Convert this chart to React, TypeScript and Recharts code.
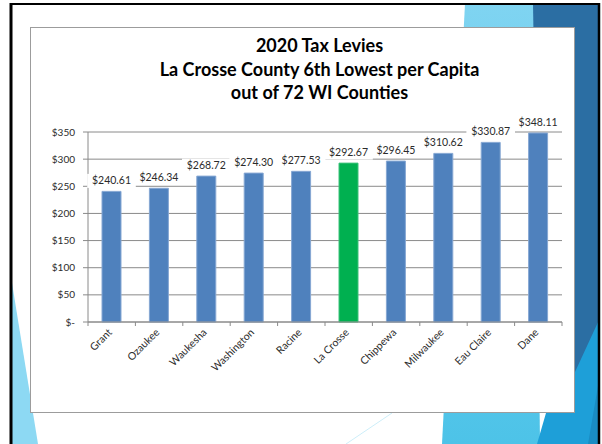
import React from 'react';
import { BarChart, Bar, XAxis, YAxis, CartesianGrid, Cell, LabelList } from 'recharts';

const counties = ['Grant', 'Ozaukee', 'Waukesha', 'Washington', 'Racine', 'La Crosse', 'Chippewa', 'Milwaukee', 'Eau Claire', 'Dane'];
const levies = [240.61, 246.34, 268.72, 274.3, 277.53, 292.67, 296.45, 310.62, 330.87, 348.11];
const highlightCounty = 'La Crosse';
const yTicks = [0, 50, 100, 150, 200, 250, 300, 350];
const titleLines = ['2020 Tax Levies', 'La Crosse County 6th Lowest per Capita', 'out of 72 WI Counties'];

const data = counties.map((c, i) => ({ county: c, levy: levies[i] }));

const CHART_W = 545;
const CHART_H = 386;
const Y_AXIS_W = 58;
const MARGIN = { top: 105, right: 13, bottom: 0, left: 0 };
const PLOT_W = CHART_W - Y_AXIS_W - MARGIN.right - MARGIN.left;
const BAND = PLOT_W / counties.length;

const FONT = 'Lato, "Open Sans", sans-serif';
const GRID = '#8a8a8a';
const BLUE = '#4F81BD';
const GREEN = '#00B050';
const TEXT = '#2b2b2b';

const fmtY = (v: number) => (v === 0 ? '$-' : `$${v}`);
const fmtLabel = (v: number) => `$${v.toFixed(2)}`;

const XTick = (props: any) => {
  const { x, y, payload, index } = props;
  const tx = x + 1;
  const ty = y + 11;
  const last = index === counties.length - 1;
  return (
    <g>
      <line x1={x - BAND / 2} x2={x - BAND / 2} y1={y} y2={y + 4} stroke={GRID} />
      {last && <line x1={x + BAND / 2} x2={x + BAND / 2} y1={y} y2={y + 4} stroke={GRID} />}
      <text
        x={tx}
        y={ty}
        textAnchor="end"
        transform={`rotate(-45, ${tx}, ${ty})`}
        fontSize={10.5}
        fontFamily={FONT}
        fill={TEXT}
      >
        {payload.value}
      </text>
    </g>
  );
};

const BarLabel = (props: any) => {
  const { x, y, width, value } = props;
  const cx = x + width / 2;
  const txt = fmtLabel(Number(value));
  const w = txt.length * 5.8 + 8;
  return (
    <g>
      <rect x={cx - w / 2} y={y - 17.5} width={w} height={14} fill="#ffffff" />
      <text x={cx} y={y - 7} textAnchor="middle" fontSize={10.5} fontFamily={FONT} fill={TEXT}>
        {txt}
      </text>
    </g>
  );
};

export default function App() {
  return (
    <div style={{ position: 'absolute', left: 0, top: 0, width: 602, height: 444, background: '#ffffff', overflow: 'hidden' }}>
      <svg width={602} height={444} style={{ position: 'absolute', left: 0, top: 0 }}>
        <defs>
          <linearGradient id="lb" x1="0" y1="0" x2="0" y2="1">
            <stop offset="0" stopColor="#7FD4F1" />
            <stop offset="1" stopColor="#4DC3E8" />
          </linearGradient>
        </defs>
        <polygon points="465,4 535,4 540,444 442,444" fill="url(#lb)" />
        <polygon points="533,4 599,4 599,345 560,413 540,413" fill="#2B6EA3" />
        <polygon points="599,320 599,444 537,444 546,413 575,372" fill="#1E9FD8" />
        <polygon points="599,380 599,444 588,444" fill="#1A8CC3" />
        <polygon points="12,283 12,444 38,444" fill="#8DD9F3" />
        <line x1={392} y1={413} x2={346} y2={444} stroke="#cdeef9" strokeWidth={1} />
        <line x1={11} y1={3} x2={11} y2={444} stroke="#000" strokeWidth={3} />
        <line x1={10} y1={4} x2={600} y2={4} stroke="#000" strokeWidth={2} />
        <line x1={599} y1={3} x2={599} y2={444} stroke="#000" strokeWidth={2.5} />
      </svg>
      <div
        style={{
          position: 'absolute',
          left: 30,
          top: 27,
          width: CHART_W,
          height: CHART_H,
          boxSizing: 'border-box',
          border: '1px solid #9c9c9c',
          background: '#ffffff',
        }}
      />
      <div style={{ position: 'absolute', left: 30, top: 27 }}>
        <BarChart width={CHART_W} height={CHART_H} data={data} margin={MARGIN} barSize={19}>
          <CartesianGrid vertical={false} stroke={GRID} />
          <XAxis
            dataKey="county"
            interval={0}
            tickLine={false}
            tickSize={0}
            tickMargin={0}
            height={91}
            axisLine={{ stroke: GRID }}
            tick={<XTick />}
          />
          <YAxis
            width={Y_AXIS_W}
            domain={[0, 350]}
            ticks={yTicks}
            tickFormatter={fmtY}
            tickSize={5}
            tickMargin={8}
            axisLine={{ stroke: GRID }}
            tickLine={{ stroke: GRID }}
            tick={{ fontSize: 10, fontFamily: FONT, fill: TEXT }}
          />
          <Bar dataKey="levy" isAnimationActive={false}>
            {data.map((d) => (
              <Cell
                key={d.county}
                fill={d.county === highlightCounty ? GREEN : BLUE}
                stroke={d.county === highlightCounty ? '#3cc27a' : '#86a7d3'}
                strokeWidth={1}
              />
            ))}
            <LabelList dataKey="levy" content={<BarLabel />} />
          </Bar>
        </BarChart>
      </div>
      <svg width={602} height={444} style={{ position: 'absolute', left: 0, top: 0, pointerEvents: 'none' }}>
        {titleLines.map((t, i) => (
          <text
            key={t}
            x={319.5}
            y={52 + i * 23.5}
            textAnchor="middle"
            fontSize={18}
            fontWeight="bold"
            fontFamily={FONT}
            fill="#000"
          >
            {t}
          </text>
        ))}
      </svg>
    </div>
  );
}
